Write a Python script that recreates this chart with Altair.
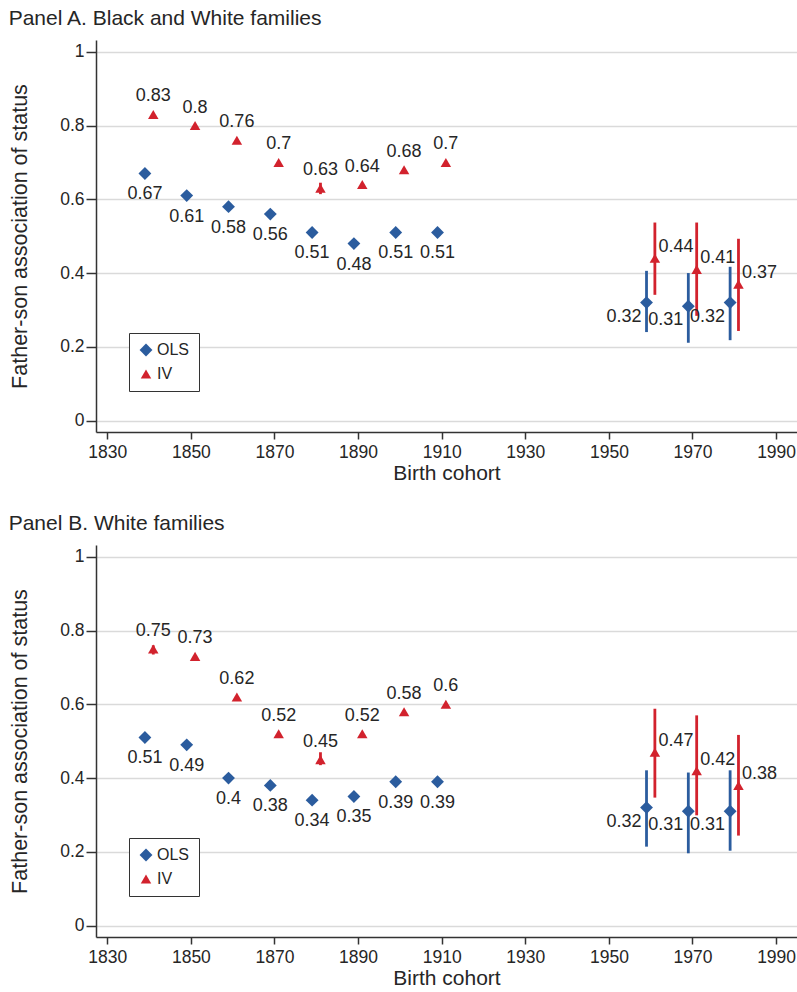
import altair as alt
import pandas as pd

FONT = "Liberation Sans"
BLUE = "#2b5c9e"
RED = "#d2222d"
INK = "#262626"

# Cohort positions: OLS and IV estimates are drawn side by side around each decade
hist_ols_cohort = [1839, 1849, 1859, 1869, 1879, 1889, 1899, 1909]
hist_iv_cohort = [1841, 1851, 1861, 1871, 1881, 1891, 1901, 1911]
mod_ols_cohort = [1959, 1969, 1979]
mod_iv_cohort = [1961, 1971, 1981]

# Panel A: Black and White families
a_hist_ols = [0.67, 0.61, 0.58, 0.56, 0.51, 0.48, 0.51, 0.51]
a_hist_iv = [0.83, 0.80, 0.76, 0.70, 0.63, 0.64, 0.68, 0.70]
a_hist_iv_lo = [None, None, None, None, 0.614, None, None, None]
a_hist_iv_hi = [None, None, None, None, 0.645, None, None, None]
a_mod_ols = [0.32, 0.31, 0.32]
a_mod_ols_lo = [0.240, 0.211, 0.218]
a_mod_ols_hi = [0.406, 0.400, 0.417]
a_mod_iv = [0.44, 0.41, 0.37]
a_mod_iv_lo = [0.341, 0.284, 0.243]
a_mod_iv_hi = [0.537, 0.537, 0.493]

# Panel B: White families
b_hist_ols = [0.51, 0.49, 0.40, 0.38, 0.34, 0.35, 0.39, 0.39]
b_hist_iv = [0.75, 0.73, 0.62, 0.52, 0.45, 0.52, 0.58, 0.60]
b_hist_iv_lo = [0.735, None, None, None, 0.435, None, None, None]
b_hist_iv_hi = [0.760, None, None, None, 0.470, None, None, None]
b_mod_ols = [0.32, 0.31, 0.31]
b_mod_ols_lo = [0.214, 0.196, 0.203]
b_mod_ols_hi = [0.421, 0.415, 0.421]
b_mod_iv = [0.47, 0.42, 0.38]
b_mod_iv_lo = [0.347, 0.299, 0.244]
b_mod_iv_hi = [0.588, 0.570, 0.517]

x_ticks = [1830, 1850, 1870, 1890, 1910, 1930, 1950, 1970, 1990]
y_ticks = [0, 0.2, 0.4, 0.6, 0.8, 1]


def rows(est, era, cohorts, vals, lo=None, hi=None):
    out = []
    for i, (c, v) in enumerate(zip(cohorts, vals)):
        out.append({
            "est": est, "era": era, "cohort": c, "coef": v,
            "lo": lo[i] if lo else None, "hi": hi[i] if hi else None,
            "label": f"{v:g}",
        })
    return out


def frame(h_ols, h_iv, h_iv_lo, h_iv_hi, m_ols, m_ols_lo, m_ols_hi, m_iv, m_iv_lo, m_iv_hi):
    return pd.DataFrame(
        rows("OLS", "hist", hist_ols_cohort, h_ols)
        + rows("IV", "hist", hist_iv_cohort, h_iv, h_iv_lo, h_iv_hi)
        + rows("OLS", "mod", mod_ols_cohort, m_ols, m_ols_lo, m_ols_hi)
        + rows("IV", "mod", mod_iv_cohort, m_iv, m_iv_lo, m_iv_hi)
    )


df_a = frame(a_hist_ols, a_hist_iv, a_hist_iv_lo, a_hist_iv_hi,
             a_mod_ols, a_mod_ols_lo, a_mod_ols_hi, a_mod_iv, a_mod_iv_lo, a_mod_iv_hi)
df_b = frame(b_hist_ols, b_hist_iv, b_hist_iv_lo, b_hist_iv_hi,
             b_mod_ols, b_mod_ols_lo, b_mod_ols_hi, b_mod_iv, b_mod_iv_lo, b_mod_iv_hi)

xscale = alt.Scale(domain=[1827.3, 1995], nice=False, zero=False)
yscale = alt.Scale(domain=[-0.031, 1.032], nice=False, zero=False)
xaxis = alt.Axis(values=x_ticks, format="d", grid=False, tickSize=7, labelPadding=4,
                 labelFontSize=17.5, title="Birth cohort", titleFontSize=21, titlePadding=2)
yaxis = alt.Axis(values=y_ticks, format=".1~f", grid=True, tickSize=10, labelPadding=2,
                 labelFontSize=17.5, title="Father-son association of status",
                 titleFontSize=21.5, titlePadding=28)
cscale = alt.Scale(domain=["OLS", "IV"], range=[BLUE, RED])
sscale = alt.Scale(domain=["OLS", "IV"], range=["diamond", "triangle-up"])
zscale = alt.Scale(domain=["OLS", "IV"], range=[165, 110])


def panel(df, title):
    base = alt.Chart(df)
    x = alt.X("cohort:Q", scale=xscale, axis=xaxis)
    y = alt.Y("coef:Q", scale=yscale, axis=yaxis)
    legend = alt.Legend(title=None, orient="none", legendX=33, legendY=293)
    color = alt.Color("est:N", scale=cscale, legend=legend)

    ci = base.transform_filter("isValid(datum.lo)").mark_rule(strokeWidth=2.8).encode(
        x=x,
        y=alt.Y("lo:Q", scale=yscale, axis=yaxis),
        y2="hi:Q",
        color=color,
    )

    pts = base.mark_point(filled=True, opacity=1).encode(
        x=x, y=y,
        color=color,
        shape=alt.Shape("est:N", scale=sscale, legend=legend),
        size=alt.Size("est:N", scale=zscale, legend=legend),
    )

    def labels(est, era, **kw):
        return base.transform_filter(
            f"datum.est == '{est}' && datum.era == '{era}'"
        ).mark_text(font=FONT, fontSize=18, color=INK, baseline="alphabetic", **kw).encode(
            x=x, y=y, text="label:N"
        )

    txt = [
        labels("OLS", "hist", align="center", dy=26),
        labels("IV", "hist", align="center", dy=-13),
        labels("OLS", "mod", align="right", dx=-5, dy=19),
        labels("IV", "mod", align="left", dx=3.5, dy=-6),
    ]

    return alt.layer(ci, pts, *txt).properties(
        width=701, height=392,
        title=alt.TitleParams(title, anchor="start", frame="bounds", fontSize=21,
                              font=FONT, fontWeight="normal", color=INK, offset=11, dx=-1),
    )


chart = (
    alt.vconcat(
        panel(df_a, "Panel A. Black and White families"),
        panel(df_b, "Panel B. White families"),
        spacing=29,
    )
    .resolve_scale(color="independent", shape="independent", size="independent")
    .resolve_legend(color="independent", shape="independent", size="independent")
    .properties(padding={"left": 8, "top": 8, "right": 0, "bottom": 5}, background="white")
    .configure_view(stroke=None)
    .configure_axis(
        gridColor="#dadada", gridWidth=1.5,
        domainColor="#333333", domainWidth=1.5,
        tickColor="#333333", tickWidth=1.5,
        labelFont=FONT, titleFont=FONT, labelColor=INK, titleColor=INK,
        titleFontWeight="normal",
    )
    .configure_legend(
        labelFont=FONT, labelFontSize=16, labelColor=INK,
        symbolStrokeWidth=0, labelOffset=3,
        padding=9, rowPadding=8,
        strokeColor="#333333", fillColor="white",
    )
)

chart.save("out.html", embed_options={"renderer": "svg", "actions": False})
